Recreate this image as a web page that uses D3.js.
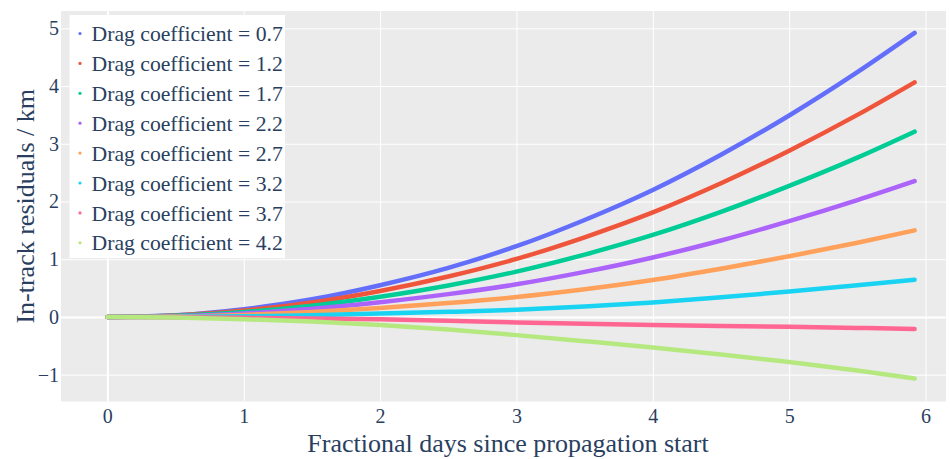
<!DOCTYPE html>
<html>
<head>
<meta charset="utf-8">
<script src="https://cdn.jsdelivr.net/npm/d3@7"></script>
<style>
  body { margin: 0; background: #fff; }
  svg { display: block; font-family: "Liberation Serif", "Times New Roman", serif; }
</style>
</head>
<body>
<script>
const days = [0, 0.5, 1, 1.5, 2, 2.5, 3, 3.5, 4, 4.5, 5, 5.5, 5.92];

const dragCoefficients = [0.7, 1.2, 1.7, 2.2, 2.7, 3.2, 3.7, 4.2];

// in-track residuals (km), one array per drag coefficient
const cd07 = [0, 0.03, 0.135, 0.305, 0.55, 0.85, 1.225, 1.68, 2.2, 2.81, 3.49, 4.24, 4.92];
const cd12 = [0, 0.025, 0.11, 0.25, 0.45, 0.7, 1.005, 1.38, 1.81, 2.315, 2.88, 3.5, 4.065];
const cd17 = [0, 0.02, 0.085, 0.195, 0.35, 0.545, 0.785, 1.08, 1.42, 1.82, 2.27, 2.76, 3.21];
const cd22 = [0, 0.013, 0.06, 0.14, 0.255, 0.395, 0.565, 0.78, 1.03, 1.325, 1.66, 2.025, 2.355];
const cd27 = [0, 0.007, 0.035, 0.085, 0.155, 0.24, 0.345, 0.48, 0.64, 0.835, 1.05, 1.285, 1.5];
const cd32 = [0, 0.001, 0.01, 0.03, 0.058, 0.088, 0.125, 0.18, 0.25, 0.34, 0.44, 0.548, 0.645];
const cd37 = [0, -0.005, -0.015, -0.025, -0.04, -0.065, -0.095, -0.12, -0.14, -0.155, -0.17, -0.19, -0.21];
const cd42 = [0, -0.011, -0.04, -0.08, -0.138, -0.218, -0.315, -0.42, -0.53, -0.65, -0.78, -0.928, -1.065];

const residuals = [cd07, cd12, cd17, cd22, cd27, cd32, cd37, cd42];

const xTicks = [0, 1, 2, 3, 4, 5, 6];
const yTicks = [-1, 0, 1, 2, 3, 4, 5];

const colors = ['#636efa', '#EF553B', '#00cc96', '#ab63fa', '#FFA15A', '#19d3f3', '#FF6692', '#B6E880'];

let width = 950;
let height = 459;
let plot = { left: 61, right: 946, top: 11, bottom: 401.5 };
let textColor = '#2a3f5f';

let svg = d3.select('body')
  .append('svg')
  .attr('width', width)
  .attr('height', height);

let x = d3.scaleLinear().domain([-0.34, 6.15]).range([plot.left, plot.right]);
let y = d3.scaleLinear().domain([-1.465, 5.3]).range([plot.bottom, plot.top]);

svg.append('rect')
  .attr('x', plot.left)
  .attr('y', plot.top)
  .attr('width', plot.right - plot.left)
  .attr('height', plot.bottom - plot.top)
  .attr('fill', '#ebebeb');

// grid lines
svg.append('g')
  .attr('transform', `translate(0,${plot.bottom})`)
  .call(d3.axisBottom(x).tickValues(xTicks).tickSize(-(plot.bottom - plot.top)).tickFormat(''))
  .call(g => g.select('.domain').remove())
  .call(g => g.selectAll('line').attr('stroke', '#fff').attr('stroke-width', d => d === 0 ? 2 : 1));

svg.append('g')
  .attr('transform', `translate(${plot.left},0)`)
  .call(d3.axisLeft(y).tickValues(yTicks).tickSize(-(plot.right - plot.left)).tickFormat(''))
  .call(g => g.select('.domain').remove())
  .call(g => g.selectAll('line').attr('stroke', '#fff').attr('stroke-width', d => d === 0 ? 2 : 1));

// tick labels
svg.append('g')
  .attr('transform', `translate(0,${plot.bottom})`)
  .call(d3.axisBottom(x).tickValues(xTicks).tickSize(0).tickPadding(7.5).tickFormat(d3.format('d')))
  .call(g => g.select('.domain').remove())
  .call(g => g.selectAll('text').attr('fill', textColor).style('font-size', '20px').style('font-family', 'Liberation Serif'));

svg.append('g')
  .attr('transform', `translate(${plot.left},0)`)
  .call(d3.axisLeft(y).tickValues(yTicks).tickSize(0).tickPadding(2).tickFormat(d3.format('d')))
  .call(g => g.select('.domain').remove())
  .call(g => g.selectAll('text').attr('fill', textColor).style('font-size', '20px').style('font-family', 'Liberation Serif'));

// series
let line = d3.line()
  .x((d, i) => x(days[i]))
  .y(d => y(d))
  .curve(d3.curveMonotoneX);

svg.append('g')
  .selectAll('path')
  .data(residuals)
  .join('path')
  .attr('d', line)
  .attr('fill', 'none')
  .attr('stroke', (d, i) => colors[i])
  .attr('stroke-width', 4.5)
  .attr('stroke-linecap', 'round');

// axis titles
svg.append('text')
  .attr('x', 508)
  .attr('y', 452)
  .attr('text-anchor', 'middle')
  .attr('fill', textColor)
  .style('font-size', '26px')
  .text('Fractional days since propagation start');

svg.append('text')
  .attr('transform', `translate(34,${(plot.top + plot.bottom) / 2}) rotate(-90)`)
  .attr('text-anchor', 'middle')
  .attr('fill', textColor)
  .style('font-size', '26px')
  .text('In-track residuals / km');

// legend
let legend = svg.append('g');
legend.append('rect')
  .attr('x', 69.5)
  .attr('y', 15)
  .attr('width', 215.5)
  .attr('height', 243)
  .attr('fill', '#fff');

let items = legend.selectAll('g')
  .data(dragCoefficients)
  .join('g')
  .attr('transform', (d, i) => `translate(80,${33.5 + i * 29.9})`);

items.append('circle')
  .attr('r', 1.6)
  .attr('fill', (d, i) => colors[i]);

items.append('text')
  .attr('x', 11.5)
  .attr('dy', '0.35em')
  .attr('fill', textColor)
  .style('font-size', '21.7px')
  .text(d => 'Drag coefficient = ' + d);
</script>
</body>
</html>
